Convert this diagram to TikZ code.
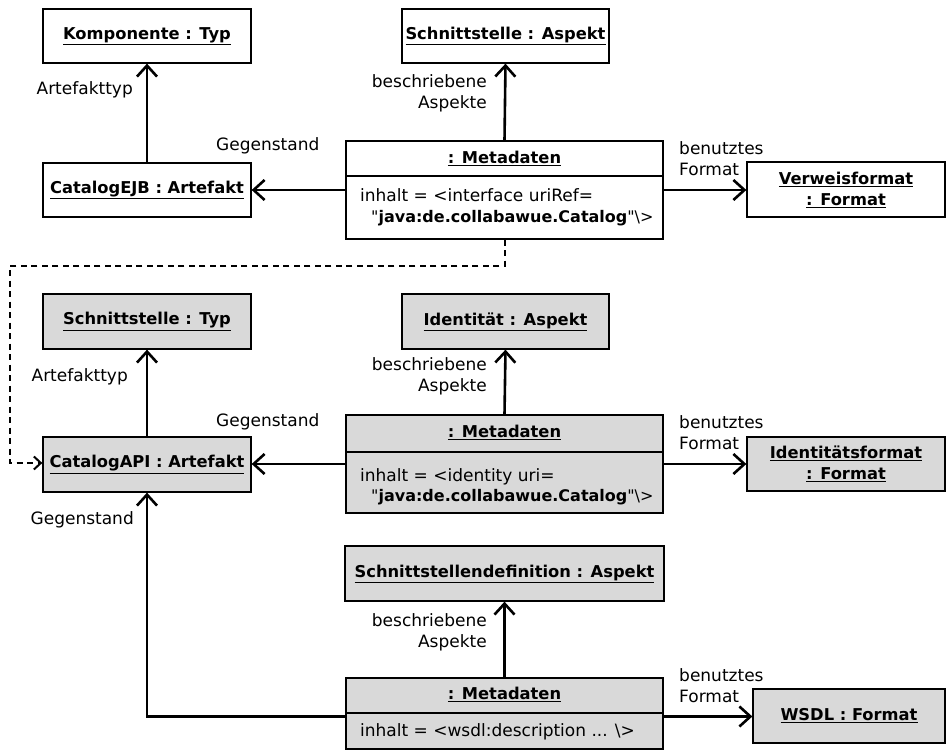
\documentclass[tikz,border=0pt]{standalone}
\usepackage{fontspec}
\setmainfont{DejaVu Sans}[Ligatures=TeXOff]
\usetikzlibrary{arrows.meta}
\definecolor{boxgray}{RGB}{217,217,217}
\tikzset{
  objbox/.style={draw=black, line width=1.3pt, inner sep=0pt, align=center, font=\fontsize{16.3}{20}\selectfont},
  grayfill/.style={fill=boxgray},
  lbl/.style={inner sep=0pt, text height=12pt, text depth=3.5pt},
  mlbl/.style={inner sep=0pt},
  javaline/.style={lbl, anchor=west, font=\fontsize{16}{20}\selectfont},
  assoc/.style={line width=2.6pt, -{Straight Barb[length=11pt,width=20pt,line width=2.6pt]}},
  depline/.style={line width=2pt, dash pattern=on 6pt off 4.5pt, -{Straight Barb[length=7pt,width=13pt,line width=2pt]}},
  divider/.style={line width=1.1pt}
}
\newcommand{\ttl}[1]{\underline{\textbf{#1}}}
\newcommand{\qq}{\symbol{34}}
\begin{document}
\begin{tikzpicture}[x=1pt,y=-1pt,font=\fontsize{17}{21}\selectfont]
\useasboundingbox (0,0) rectangle (947,751);
\fill[white] (0,0) rectangle (947,751);

% ---- top block (white) ----
\node[objbox, minimum width=208, minimum height=54] (kt) at (147,36) {\ttl{Komponente : Typ}};
\node[objbox, minimum width=208, minimum height=54] (ejb) at (147,190) {\ttl{CatalogEJB : Artefakt}};
\node[objbox, minimum width=207, minimum height=54] (sa) at (505.5,36) {\ttl{Schnittstelle : Aspekt}};
\node[objbox, minimum width=317, minimum height=98] (md1) at (504.5,190) {};
\node[objbox, minimum width=198, minimum height=55] (vf) at (846,189.5) {\ttl{Verweisformat}\\[1pt]\ttl{: Format}};
\draw[divider] (346,176) -- (663,176);
\node[lbl, font=\fontsize{16.3}{20}\selectfont] (md1t) at (504.5,159) {\ttl{: Metadaten}};
\node[lbl, anchor=west] (md1a) at (360,197) {inhalt = <interface uriRef=};
\node[javaline] (md1b) at (371,218) {\qq\textbf{java:de.collabawue.Catalog}\qq\textbackslash>};

% ---- middle block (gray) ----
\node[objbox, grayfill, minimum width=208, minimum height=55] (st) at (147,321.5) {\ttl{Schnittstelle : Typ}};
\node[objbox, grayfill, minimum width=208, minimum height=55] (api) at (147,464.5) {\ttl{CatalogAPI : Artefakt}};
\node[objbox, grayfill, minimum width=207, minimum height=55] (ia) at (505.5,321.5) {\ttl{Identität : Aspekt}};
\node[objbox, grayfill, minimum width=317, minimum height=98] (md2) at (504.5,464) {};
\node[objbox, grayfill, minimum width=198, minimum height=54] (if) at (846,464) {\ttl{Identitätsformat}\\[1pt]\ttl{: Format}};
\draw[divider] (346,452) -- (663,452);
\node[lbl, font=\fontsize{16.3}{20}\selectfont] (md2t) at (504.5,433) {\ttl{: Metadaten}};
\node[lbl, anchor=west] (md2a) at (360,477) {inhalt = <identity uri=};
\node[javaline] (md2b) at (371,497) {\qq\textbf{java:de.collabawue.Catalog}\qq\textbackslash>};

% ---- bottom block (gray) ----
\node[objbox, grayfill, minimum width=319, minimum height=55] (sd) at (504.5,573.5) {\ttl{Schnittstellendefinition : Aspekt}};
\node[objbox, grayfill, minimum width=317, minimum height=71] (md3) at (504.5,713.5) {};
\node[objbox, grayfill, minimum width=192, minimum height=54] (wsdl) at (849,716) {\ttl{WSDL : Format}};
\draw[divider] (346,713) -- (663,713);
\node[lbl, font=\fontsize{16.3}{20}\selectfont] (md3t) at (504.5,695) {\ttl{: Metadaten}};
\node[lbl, anchor=west] (md3a) at (360,732) {inhalt = <wsdl:description ... \textbackslash>};

% ---- connectors ----
\draw[assoc] (ejb.north) -- (kt.south);
\draw[assoc] (md1.west) -- (ejb.east);
\draw[assoc] (md1.north) -- (sa.south);
\draw[assoc] (md1.east) -- (md1.east -| vf.west);

\draw[assoc] (api.north) -- (st.south);
\draw[assoc] (md2.west) -- (md2.west -| api.east);
\draw[assoc] (md2.north) -- (ia.south);
\draw[assoc] (md2.east) -- (md2.east -| if.west);

\draw[assoc] (md3.north) -- (sd.south);
\draw[assoc] ([yshift=-3pt]md3.east) -- ([yshift=-3pt]md3.east -| wsdl.west);
\draw[assoc] ([yshift=-3pt]md3.west) -| (api.south);

\coordinate (dA) at (10,266);
\draw[depline] (md1.south) |- (dA) |- ([yshift=1.5pt]api.west);

% ---- labels ----
\node[lbl, anchor=east] (l1) at (133,90) {Artefakttyp};
\node[lbl, anchor=west] (l2) at (216,146) {Gegenstand};
\node[mlbl, anchor=east, align=right] (l3) at (487,93.5) {beschriebene\\Aspekte};
\node[mlbl, anchor=west, align=left] (l4) at (679,159) {benutztes\\Format};

\node[lbl, anchor=east] (l5) at (128,377) {Artefakttyp};
\node[lbl, anchor=west] (l6) at (216,422) {Gegenstand};
\node[mlbl, anchor=east, align=right] (l7) at (487,376.5) {beschriebene\\Aspekte};
\node[mlbl, anchor=west, align=left] (l8) at (679,432.5) {benutztes\\Format};

\node[lbl, anchor=east] (l9) at (134,520) {Gegenstand};
\node[mlbl, anchor=east, align=right] (l10) at (487,632.5) {beschriebene\\Aspekte};
\node[mlbl, anchor=west, align=left] (l11) at (679,685.5) {benutztes\\Format};
\end{tikzpicture}
\end{document}
